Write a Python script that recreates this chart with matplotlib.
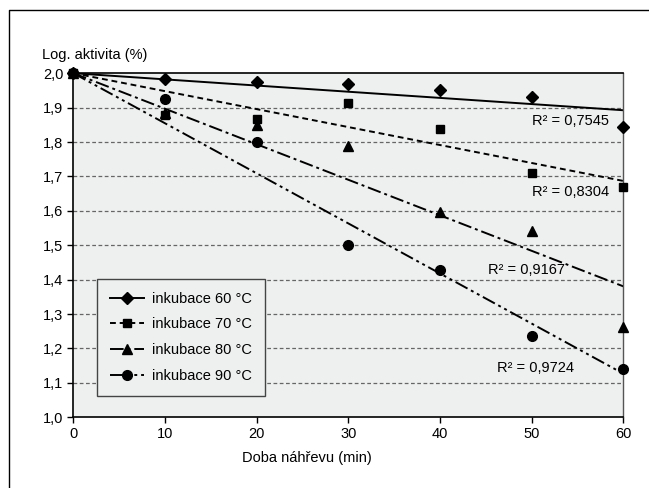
import numpy as np
import matplotlib
matplotlib.use('Agg')
import matplotlib.pyplot as plt
from matplotlib.lines import Line2D

plt.rcParams['font.family'] = ['Liberation Sans', 'DejaVu Sans']

# data
doba = [0, 10, 20, 30, 40, 50, 60]
inkubace_60 = [2.0, 1.983, 1.973, 1.968, 1.951, 1.932, 1.845]
inkubace_70 = [2.0, 1.879, 1.866, 1.913, 1.837, 1.709, 1.668]
inkubace_80 = [2.0, 1.885, 1.849, 1.789, 1.597, 1.540, 1.261]
inkubace_90 = [2.0, 1.924, 1.800, 1.500, 1.428, 1.236, 1.140]

nazvy = ['inkubace 60 °C', 'inkubace 70 °C', 'inkubace 80 °C', 'inkubace 90 °C']
r2_texty = ['R² = 0,7545', 'R² = 0,8304', 'R² = 0,9167', 'R² = 0,9724']
r2_pozice = [(54.2, 1.862), (54.3, 1.656), (49.4, 1.428), (50.4, 1.143)]

y_ticks = [1.0, 1.1, 1.2, 1.3, 1.4, 1.5, 1.6, 1.7, 1.8, 1.9, 2.0]
x_ticks = [0, 10, 20, 30, 40, 50, 60]

serie = [inkubace_60, inkubace_70, inkubace_80, inkubace_90]
markery = ['D', 's', '^', 'o']
velikosti = [6, 6, 7, 7]
styly = ['-', (0, (3, 2)), (0, (7, 2, 1.5, 2)), (0, (7, 2, 1.5, 2, 1.5, 2))]

FS = 10.5

fig = plt.figure(figsize=(6.49, 4.88), dpi=100)
ax = fig.add_axes([0.113, 0.145, 0.8474, 0.705])
ax.set_facecolor('#eeefef')

# vodorovna mrizka
for yt in y_ticks[1:-1]:
    ax.axhline(yt, color='#666666', lw=0.9, ls=(0, (3, 2)), zorder=1)

x = np.array(doba, dtype=float)
handles = []
for vals, m, ms, ls, nazev in zip(serie, markery, velikosti, styly, nazvy):
    y = np.array(vals)
    # linearni trend s pevnym usekem 2,0
    k = np.sum(x * (y - 2.0)) / np.sum(x * x)
    xx = np.array([0, 60])
    ax.plot(xx, 2.0 + k * xx, color='black', lw=1.4, ls=ls, zorder=2)
    ax.plot(x, y, ls='none', marker=m, ms=ms, color='black', zorder=3, clip_on=False)
    handles.append(Line2D([], [], color='black', lw=1.4, ls=ls, marker=m, ms=ms))

for txt, (tx, ty) in zip(r2_texty, r2_pozice):
    ax.text(tx, ty, txt, ha='center', va='center', fontsize=FS)

ax.set_xlim(0, 60)
ax.set_ylim(1.0, 2.0)
ax.set_xticks(x_ticks)
ax.set_xticklabels([str(t) for t in x_ticks])
ax.set_yticks(y_ticks)
ax.set_yticklabels([f'{t:.1f}'.replace('.', ',') for t in y_ticks])
ax.tick_params(direction='out', length=4, width=1, labelsize=FS, pad=3)

for s in ['left', 'bottom', 'top']:
    ax.spines[s].set_color('black')
    ax.spines[s].set_linewidth(1.2)
ax.spines['right'].set_color('#555555')
ax.spines['right'].set_linewidth(1.0)

leg = ax.legend(handles, nazvy, loc='lower left', bbox_to_anchor=(0.043, 0.062),
                fontsize=FS, frameon=True, fancybox=False, handlelength=2.3,
                labelspacing=0.8, borderpad=0.9, handletextpad=0.6, borderaxespad=0)
leg.get_frame().set_facecolor('#eeefef')
leg.get_frame().set_edgecolor('#444444')
leg.get_frame().set_linewidth(1.0)
leg.get_frame().set_alpha(1)

fig.text(42 / 649, 1 - 55 / 488, 'Log. aktivita (%)', ha='left', va='center', fontsize=FS)
fig.text(307 / 649, 1 - 458 / 488, 'Doba náhřevu (min)', ha='center', va='center', fontsize=FS)

# vnejsi ramecek (jen horni a leva strana)
fig.add_artist(Line2D([9 / 649, 9 / 649, 1.0], [0.0, 1 - 10 / 488, 1 - 10 / 488],
                      transform=fig.transFigure, color='black', lw=1.0))

fig.savefig('out.png', dpi=100)
